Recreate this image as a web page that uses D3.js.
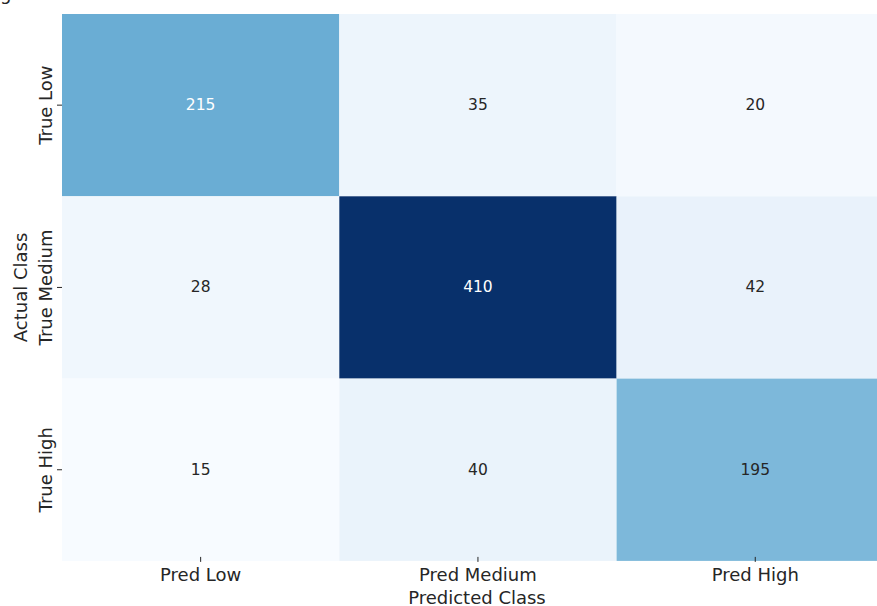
<!DOCTYPE html>
<html>
<head>
<meta charset="utf-8">
<script src="https://cdn.jsdelivr.net/npm/d3@7"></script>
<style>
html,body{margin:0;padding:0;background:#fff;}
svg{display:block;font-family:"DejaVu Sans",sans-serif;}
</style>
</head>
<body>
<svg id="chart" width="877" height="606"></svg>
<script>
const predLabels = ["Pred Low", "Pred Medium", "Pred High"];
const actualLabels = ["True Low", "True Medium", "True High"];
const rowLow = [215, 35, 20];
const rowMedium = [28, 410, 42];
const rowHigh = [15, 40, 195];
const matrix = [rowLow, rowMedium, rowHigh];

const svg = d3.select("#chart");
const mLeft = 62, mTop = 14, cellW = 277.3, cellH = 182.3;

const x = d3.scaleBand().domain(predLabels).range([mLeft, mLeft + cellW * 3]);
const y = d3.scaleBand().domain(actualLabels).range([mTop, mTop + cellH * 3]);

const all = matrix.flat();
const vmin = d3.min(all), vmax = d3.max(all);
const color = d3.scaleSequential(d3.interpolateBlues).domain([vmin, vmax]);

const cells = [];
matrix.forEach((row, i) => row.forEach((v, j) => cells.push({r: actualLabels[i], c: predLabels[j], v})));

svg.append("g").selectAll("rect").data(cells).join("rect")
  .attr("x", d => x(d.c)).attr("y", d => y(d.r))
  .attr("width", x.bandwidth()).attr("height", y.bandwidth())
  .attr("fill", d => color(d.v));

svg.append("g").selectAll("text").data(cells).join("text")
  .attr("x", d => x(d.c) + x.bandwidth() / 2)
  .attr("y", d => y(d.r) + y.bandwidth() / 2)
  .attr("text-anchor", "middle").attr("dominant-baseline", "central")
  .attr("font-size", 15.5)
  .attr("fill", d => (d.v - vmin) / (vmax - vmin) > 0.48 ? "#ffffff" : "#262626")
  .text(d => d.v);

// x axis
const xAxis = svg.append("g").attr("transform", `translate(0,${mTop + cellH * 3 - 4})`)
  .call(d3.axisBottom(x).tickSize(5).tickPadding(6));
xAxis.select(".domain").remove();
xAxis.selectAll("line").attr("stroke", "#262626");
xAxis.selectAll("text").attr("font-size", 18).attr("fill", "#262626")
  .attr("font-family", "DejaVu Sans");

// y axis
const yAxis = svg.append("g").attr("transform", `translate(${mLeft},0)`)
  .call(d3.axisLeft(y).tickSize(5).tickPadding(6));
yAxis.select(".domain").remove();
yAxis.selectAll("line").attr("stroke", "#262626");
yAxis.selectAll("text")
  .attr("font-size", 18).attr("fill", "#262626").attr("font-family", "DejaVu Sans")
  .attr("text-anchor", "middle").attr("dominant-baseline", "central")
  .attr("x", 0).attr("y", 0).attr("dy", null)
  .attr("transform", "translate(-17,0) rotate(-90)");

svg.append("text").attr("x", mLeft + cellW * 1.5 - 1).attr("y", 597)
  .attr("text-anchor", "middle").attr("dominant-baseline", "central")
  .attr("font-size", 18).attr("fill", "#262626").text("Predicted Class");

svg.append("text")
  .attr("transform", `translate(20,${mTop + cellH * 1.5}) rotate(-90)`)
  .attr("text-anchor", "middle").attr("dominant-baseline", "central")
  .attr("font-size", 18).attr("fill", "#262626").text("Actual Class");

// clipped title remnant at the top-left
svg.append("text").attr("x", 0).attr("y", 0)
  .attr("font-size", 18).attr("fill", "#262626").text("g");
</script>
</body>
</html>
